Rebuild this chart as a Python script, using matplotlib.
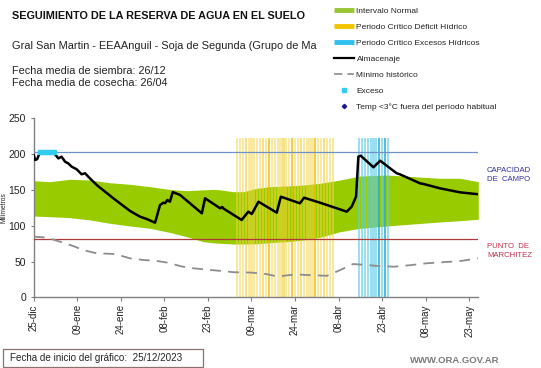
import matplotlib
matplotlib.use("Agg")
import matplotlib.pyplot as plt
from matplotlib.lines import Line2D

plt.rcParams['font.family'] = ['Liberation Sans', 'DejaVu Sans']

# ---------------- data (day offsets from 25/12/2023) ----------------
tick_days = [0, 15, 30, 45, 60, 75, 90, 105, 120, 135, 150]
tick_labels = ['25-dic', '09-ene', '24-ene', '08-feb', '23-feb', '09-mar',
               '24-mar', '08-abr', '23-abr', '08-may', '23-may']

band_days = [0, 5.6, 12.5, 19.4, 26.3, 33.2, 40.1, 47, 52.7, 58.4, 61.9, 64.2,
             68.7, 72.2, 76.8, 81.4, 87.1, 92.9, 98.6, 105.5, 112.4, 121.6,
             130.7, 139.9, 146.8, 153.1]
band_upper = [162.8, 161.5, 164.8, 163.8, 160, 157.8, 154.5, 150.5, 148.9, 150,
              150.8, 150, 147.5, 147.5, 152.2, 154.5, 155.5, 156.8, 159.2, 163.8,
              169.4, 170.8, 168.5, 166.2, 166.2, 161.5]
band_lower = [113.5, 112.6, 111.2, 108, 103.3, 99.6, 96.3, 90.5, 84.6, 77.7,
              76, 75.4, 74.4, 74.4, 74.8, 76.3, 77.7, 80, 83.8, 91.6,
              96.3, 99.6, 102.4, 105.2, 107, 109]

alm_days = [0, 0.5, 1.2, 2, 4, 6.8, 7.3, 8.5, 9.6, 10.8, 11.9, 13.1, 14.8, 16.5,
            17.7, 18.8, 21.7, 27.4, 33.2, 36.6, 38.9, 41.8, 43.5, 44.6, 45.3,
            46, 46.9, 47.9, 50.4, 57.9, 59, 64.2, 64.9, 65.4, 71.6, 73.9, 75.1,
            77.4, 83.7, 85.1, 91.7, 93.1, 98.6, 107.8, 109.5, 111, 111.8, 112.6,
            117, 119.3, 125, 126.1, 133, 134.2, 139.9, 146.8, 153.1]
alm_vals = [198.7, 191.8, 193, 201, 202.5, 202.5, 200, 194, 196.4, 189.4, 187,
            182.4, 178.8, 171.8, 173.2, 168.4, 156.8, 138.3, 120.5, 112.6, 109.4,
            104.2, 128.9, 132.1, 131.5, 135.9, 133.5, 147, 142.9, 117.3, 138.3,
            124.3, 126.2, 123.8, 108, 119.6, 116.3, 133.5, 118.2, 140.5, 131.3,
            139.1, 132.1, 119.6, 126.6, 140.5, 196.4, 197.8, 181.6, 190.8, 173.2,
            171.8, 159.2, 158.3, 152.2, 146.6, 143.9]

min_days = [0, 3.3, 6, 10.2, 14, 17, 21.7, 28, 33.2, 38, 42, 46, 51, 55, 60,
            64, 69, 75, 80, 84, 90, 95, 101, 105.5, 110, 118, 124, 130, 135,
            147, 153]
min_vals = [84.6, 83.8, 81.5, 76.3, 71, 66, 61.4, 60.5, 54.4, 52, 51, 48.5, 43,
            40.5, 38.5, 37, 35, 34.5, 32.5, 29, 32, 31, 30, 38, 46.5, 44, 42.7,
            45, 47.4, 50.7, 54.4]

exceso_days = [2, 3, 4, 5, 6, 7]
exceso_vals = [202.5, 202.5, 202.5, 202.5, 202.5, 202.5]

deficit_days = list(range(70, 104))
deficit_dark = [81, 89, 97]
deficit_mid = [73, 79, 86, 92, 100]
exceso_crit_days = list(range(112, 123))
exceso_crit_dark = [119, 121]
crit_height = 222

capacidad_campo = 202.5
punto_marchitez = 81

# ---------------- figure ----------------
W, H = 541, 368
fig = plt.figure(figsize=(W / 100, H / 100), dpi=100)
x0, x1, yb, yt = 33.7, 478.3, 297.3, 118.3
ax = fig.add_axes([x0 / W, 1 - yb / H, (x1 - x0) / W, (yb - yt) / H])

green = '#99CC00'
ax.fill_between(band_days, band_lower, band_upper, color=green, lw=0, zorder=1)

for d in deficit_days:
    if d in deficit_dark:
        c, a = '#EEC000', 0.75
    elif d in deficit_mid:
        c, a = '#F2CF30', 0.6
    else:
        c, a = '#F5D547', 0.5
    ax.bar(d, crit_height, width=0.75, color=c, alpha=a, lw=0, zorder=2)
for d in exceso_crit_days:
    if d in exceso_crit_dark:
        c, a = '#2AAED6', 0.8
    else:
        c, a = '#5ECDEA', 0.62
    ax.bar(d, crit_height, width=0.72, color=c, alpha=a, lw=0, zorder=2)

ax.axhline(capacidad_campo, color='#7090C8', lw=0.9, zorder=3)
ax.axhline(punto_marchitez, color='#B03A3A', lw=0.9, zorder=3)

ax.plot(min_days, min_vals, color='#8C8C8C', lw=1.3, dashes=(6, 4), zorder=4)
ax.plot(alm_days, alm_vals, color='black', lw=1.8, zorder=5,
        solid_joinstyle='round')
ax.plot(exceso_days, exceso_vals, ls='none', marker='s', ms=2.8,
        color='#33CCEE', zorder=6)

ax.set_xlim(0, 153.1)
ax.set_ylim(0, 250)
ax.set_xticks(tick_days)
ax.set_xticklabels(tick_labels, rotation=90, fontsize=7, color='#222222')
ax.set_yticks([0, 50, 100, 150, 200, 250])
ax.tick_params(axis='y', labelsize=7.5, length=2.5, pad=3, color='#808080',
               labelcolor='#222222')
ax.tick_params(axis='x', length=3, pad=2, color='#808080')
for s in ['top', 'right']:
    ax.spines[s].set_visible(False)
for s in ['left', 'bottom']:
    ax.spines[s].set_color('#808080')
    ax.spines[s].set_linewidth(1.0)
ax.set_ylabel('Milímetros', fontsize=4.8, color='#222222')
ax.yaxis.set_label_coords((8 - x0) / (x1 - x0), 0.5)

# ---------------- texts ----------------
fig.text(12 / W, 1 - 16 / H, 'SEGUIMIENTO DE LA RESERVA DE AGUA EN EL SUELO',
         fontsize=7.85, weight='bold', va='center', color='#111111')
fig.text(12 / W, 1 - 45.7 / H,
         'Gral San Martin - EEAAnguil - Soja de Segunda (Grupo de Ma',
         fontsize=7.9, va='center', color='#222222')
fig.text(12 / W, 1 - 71 / H, 'Fecha media de siembra: 26/12', fontsize=7.85,
         va='center', color='#222222')
fig.text(12 / W, 1 - 83.3 / H, 'Fecha media de cosecha: 26/04', fontsize=7.85,
         va='center', color='#222222')

fs_r = 5.6
fig.text(487 / W, 1 - 170.7 / H, 'CAPACIDAD', fontsize=fs_r, va='center',
         color='#3030A0')
fig.text(487 / W, 1 - 179.5 / H, 'DE  CAMPO', fontsize=fs_r, va='center',
         color='#3030A0')
fig.text(487 / W, 1 - 246.7 / H, 'PUNTO  DE', fontsize=fs_r, va='center',
         color='#C0304A')
fig.text(487 / W, 1 - 255.5 / H, 'MARCHITEZ', fontsize=fs_r, va='center',
         color='#C0304A')

fig.text(9.5 / W, 1 - 357.7 / H, 'Fecha de inicio del gráfico:  25/12/2023',
         fontsize=7.1, va='center', color='#222222')
box = plt.Rectangle((3.3 / W, 1 - 367.3 / H), (203 - 3.3) / W, 18 / H,
                    transform=fig.transFigure, fill=False,
                    edgecolor='#8A7070', lw=0.9)
fig.add_artist(box)
fig.text(410 / W, 1 - 360.7 / H, 'WWW.ORA.GOV.AR', fontsize=6.8, va='center',
         color='#7A7A7A', weight='bold')

# ---------------- legend ----------------
handles = [
    Line2D([], [], color='#99C632', lw=3.5, solid_capstyle='butt'),
    Line2D([], [], color='#F5C400', lw=3.5, solid_capstyle='butt'),
    Line2D([], [], color='#30C0F0', lw=3.5, solid_capstyle='butt'),
    Line2D([], [], color='black', lw=1.6),
    Line2D([], [], color='#8C8C8C', lw=1.2, dashes=(5, 3)),
    Line2D([], [], ls='none', marker='s', ms=2.2, color='#33CCEE'),
    Line2D([], [], ls='none', marker='D', ms=2.2, color='#1A1A8C'),
]
labels = ['Intervalo Normal', 'Periodo Crítico Déficit Hídrico',
          'Periodo Crítico Excesos Hídricos', 'Almacenaje', 'Mínimo histórico',
          'Exceso', 'Temp <3°C fuera del período habitual']
fig.legend(handles, labels, loc='upper left',
           bbox_to_anchor=(334 / W, 1 - 7.5 / H), frameon=False, fontsize=6,
           handlelength=2.4, handletextpad=0.3, labelspacing=0.98,
           borderpad=0, borderaxespad=0, labelcolor='#222222')

fig.savefig('out.png', dpi=100)
